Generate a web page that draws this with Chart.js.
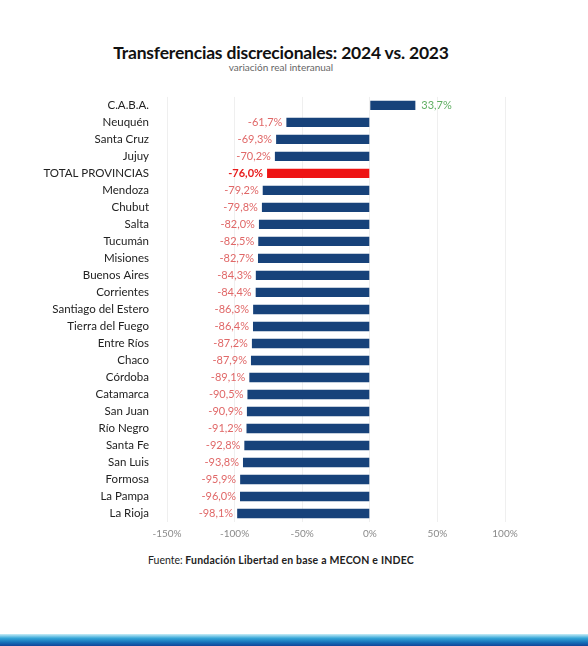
<!DOCTYPE html>
<html>
<head>
<meta charset="utf-8">
<script src="https://cdn.jsdelivr.net/npm/chart.js@4.4.1/dist/chart.umd.min.js"></script>
<style>
  body { margin: 0; width: 588px; height: 646px; background: #fff; position: relative; overflow: hidden; font-family: Lato, sans-serif; }
  .title { position: absolute; top: 42px; left: 0; width: 562px; text-align: center; font-weight: bold; font-size: 17.5px; color: #111; letter-spacing: -0.2px; }
  .subtitle { position: absolute; top: 61px; left: 0; width: 562px; text-align: center; font-size: 10px; color: #666; }
  .wrap { position: absolute; top: 80px; left: 0; width: 588px; height: 470px; }
  .source { position: absolute; top: 554px; left: 148px; font-size: 10.5px; color: #222; }
  .source b { letter-spacing: 0.2px; }
  .band { position: absolute; left: 0; top: 634px; width: 588px; height: 12px; background: linear-gradient(#c8eef7, #35a6d8 35%, #1670b8 70%, #11449a); }
</style>
</head>
<body>
<div class="title">Transferencias discrecionales: 2024 vs. 2023</div>
<div class="subtitle">variación real interanual</div>
<div class="wrap"><canvas id="myChart"></canvas></div>
<div class="source">Fuente: <b>Fundación Libertad en base a MECON e INDEC</b></div>
<div class="band"></div>
<script>
const provincias = ['C.A.B.A.', 'Neuquén', 'Santa Cruz', 'Jujuy', 'TOTAL PROVINCIAS', 'Mendoza', 'Chubut', 'Salta',
  'Tucumán', 'Misiones', 'Buenos Aires', 'Corrientes', 'Santiago del Estero', 'Tierra del Fuego', 'Entre Ríos',
  'Chaco', 'Córdoba', 'Catamarca', 'San Juan', 'Río Negro', 'Santa Fe', 'San Luis', 'Formosa', 'La Pampa', 'La Rioja'];
const variacion = [33.7, -61.7, -69.3, -70.2, -76.0, -79.2, -79.8, -82.0, -82.5, -82.7, -84.3, -84.4, -86.3, -86.4,
  -87.2, -87.9, -89.1, -90.5, -90.9, -91.2, -92.8, -93.8, -95.9, -96.0, -98.1];
const ticksX = [-150, -100, -50, 0, 50, 100];

const fmt = v => v.toFixed(1).replace('.', ',') + '%';

const valueLabels = {
  id: 'valueLabels',
  afterDatasetsDraw(chart) {
    const ctx = chart.ctx;
    const meta = chart.getDatasetMeta(0);
    ctx.save();
    ctx.textBaseline = 'middle';
    meta.data.forEach((bar, i) => {
      const v = variacion[i];
      const total = provincias[i] === 'TOTAL PROVINCIAS';
      ctx.font = (total ? 'bold ' : '') + '11px Lato, sans-serif';
      if (v >= 0) {
        ctx.fillStyle = '#5fae62';
        ctx.textAlign = 'left';
        ctx.fillText(fmt(v), bar.x + 6, bar.y);
      } else {
        ctx.fillStyle = total ? '#e81c1c' : '#e06868';
        ctx.textAlign = 'right';
        ctx.fillText(fmt(v), bar.x - 4, bar.y);
      }
    });
    ctx.restore();
  }
};

const myChart = new Chart(document.getElementById('myChart').getContext('2d'), {
  type: 'bar',
  data: {
    labels: provincias,
    datasets: [{
      data: variacion,
      backgroundColor: provincias.map(p => p === 'TOTAL PROVINCIAS' ? '#ee1414' : '#17427a'),
      barPercentage: 0.55,
      categoryPercentage: 1
    }]
  },
  options: {
    indexAxis: 'y',
    responsive: true,
    maintainAspectRatio: false,
    animation: false,
    layout: { padding: { top: 9, right: 83, left: 0, bottom: 0 } },
    plugins: { legend: { display: false }, tooltip: { enabled: false } },
    scales: {
      x: {
        min: -150,
        max: 100,
        afterBuildTicks: axis => { axis.ticks = ticksX.map(v => ({ value: v })); },
        afterFit: axis => { axis.height = 28; },
        border: { display: false },
        grid: { color: '#efefef', drawTicks: false },
        ticks: { padding: 6, color: '#8a8a8a', font: { family: 'Lato', size: 10 }, callback: v => v + '%' }
      },
      y: {
        afterFit: axis => { axis.width = 167; },
        border: { display: false },
        grid: { display: false },
        ticks: { autoSkip: false, padding: 10, color: '#222', font: { family: 'Lato', size: 11.5 } }
      }
    }
  },
  plugins: [valueLabels]
});
</script>
</body>
</html>
